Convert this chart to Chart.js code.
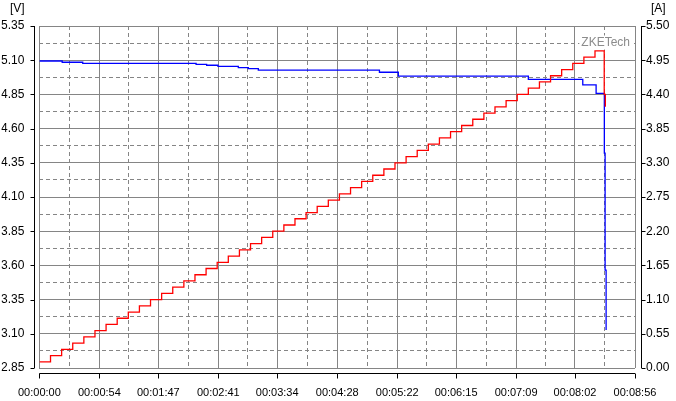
<!DOCTYPE html>
<html><head><meta charset="utf-8">
<script src="https://cdn.jsdelivr.net/npm/chart.js@4.4.1/dist/chart.umd.min.js"></script>
<style>html,body{margin:0;padding:0;background:#fff;}canvas{display:block;}</style>
</head><body>
<canvas id="c" width="676" height="401"></canvas>
<script>
// ---- tick labels ----
const timeTickLabels = ['00:00:00','00:00:54','00:01:47','00:02:41','00:03:34','00:04:28','00:05:22','00:06:15','00:07:09','00:08:02','00:08:56'];
const voltTickLabels = ['2.85','3.10','3.35','3.60','3.85','4.10','4.35','4.60','4.85','5.10','5.35'];
const ampTickLabels  = ['0.00','0.55','1.10','1.65','2.20','2.75','3.30','3.85','4.40','4.95','5.50'];

// ---- current series (A), value starting at each time (s) ----
const currentTimes = [0,10,20,30,40,50,60,70,80,90,100,110,120,130,140,150,160,170,180,190,200,
  210,220,230,240,250,260,270,280,290,300,310,320,330,340,350,360,370,380,390,400,
  410,420,430,440,450,460,470,480,490,500,508.3,509.3];
const currentValues = [0.10,0.20,0.30,0.40,0.50,0.60,0.70,0.80,0.90,1.00,1.10,1.20,1.30,1.40,1.50,1.60,1.70,1.80,1.90,2.00,2.10,
  2.20,2.30,2.40,2.50,2.60,2.70,2.80,2.90,3.00,3.10,3.20,3.30,3.40,3.50,3.60,3.70,3.80,3.90,4.00,4.10,
  4.20,4.30,4.40,4.50,4.60,4.70,4.80,4.90,5.00,5.10,4.40,4.20];

// ---- voltage series (V), value starting at each time (s) ----
const voltageTimes  = [0,20.5,39,141,150.5,160.7,179,188,197,306,323,440,489,501,508.4,509.1,510];
const voltageValues = [5.094,5.085,5.077,5.070,5.063,5.055,5.045,5.038,5.028,5.012,4.984,4.960,4.920,4.858,4.420,3.566,3.128];

const FONT = '"Liberation Sans", Arial, sans-serif';
const toSec = s => { const p = s.split(':').map(Number); return p[0]*3600 + p[1]*60 + p[2]; };
const timeSecs = timeTickLabels.map(toSec);
const voltNums = voltTickLabels.map(Number);
const ampNums = ampTickLabels.map(Number);

function withHalf(vals){
  const out = [];
  vals.forEach((v,i)=>{ out.push({value:v}); if(i<vals.length-1) out.push({value:(v+vals[i+1])/2}); });
  return out;
}
const gridOpts = { color:'#858585', lineWidth:1, drawTicks:false };
const borderOpts = { display:false, dash: ctx => (ctx.index % 2 === 1) ? [4,3] : [] };

const decor = {
  id:'decor',
  beforeDatasetsDraw(chart){
    const {ctx, chartArea:a} = chart;
    ctx.save();
    ctx.font = '12px ' + FONT;
    const txt = 'ZKETech';
    const w = ctx.measureText(txt).width;
    const x = a.right - 5 - w, y = a.top + 16.5;
    ctx.fillStyle = '#fff'; ctx.fillRect(x-2, y-7, w+4, 14);
    ctx.fillStyle = '#8c8c8c'; ctx.textBaseline = 'middle'; ctx.fillText(txt, x, y);
    ctx.restore();
  },
  afterDraw(chart){
    const {ctx, chartArea:a, scales} = chart;
    ctx.save();
    ctx.strokeStyle = '#000'; ctx.lineWidth = 1;
    const L = Math.round(a.left) - 5 + 0.5, R = Math.round(a.right) + 6 + 0.5, B = Math.round(a.bottom) + 5 + 0.5;
    ctx.beginPath();
    ctx.moveTo(L, a.top); ctx.lineTo(L, a.bottom);
    ctx.moveTo(R, a.top); ctx.lineTo(R, a.bottom);
    ctx.moveTo(a.left, B); ctx.lineTo(a.right, B);
    voltNums.forEach(v => { const y = Math.round(scales.y.getPixelForValue(v)) + 0.5; ctx.moveTo(L, y); ctx.lineTo(L-4, y); });
    ampNums.forEach(v => { const y = Math.round(scales.y1.getPixelForValue(v)) + 0.5; ctx.moveTo(R, y); ctx.lineTo(R+4, y); });
    timeSecs.forEach(v => { const x = Math.round(scales.x.getPixelForValue(v)) + 0.5; ctx.moveTo(x, B); ctx.lineTo(x, B+5); });
    ctx.stroke();
    ctx.fillStyle = '#000'; ctx.font = '12px ' + FONT; ctx.textBaseline = 'middle';
    ctx.textAlign = 'left';
    ctx.fillText('[V]', 10, 9);
    ctx.fillText('[A]', 651, 9);
    ctx.restore();
  }
};

new Chart(document.getElementById('c'), {
  type:'line',
  data:{ datasets:[
    { label:'Current', data: currentTimes.map((t,i)=>({x:t, y:currentValues[i]})), yAxisID:'y1',
      borderColor:'#ff0000', borderWidth:1.3, pointRadius:0, stepped:true, fill:false },
    { label:'Voltage', data: voltageTimes.map((t,i)=>({x:t, y:voltageValues[i]})), yAxisID:'y',
      borderColor:'#0000ff', borderWidth:1.3, pointRadius:0, stepped:true, fill:false }
  ]},
  options:{
    responsive:false, animation:false, devicePixelRatio:1,
    layout:{ padding:{ top:26, left:0, right:0, bottom:0 } },
    plugins:{ legend:{display:false}, tooltip:{enabled:false} },
    scales:{
      x:{ type:'linear', min:timeSecs[0], max:timeSecs[timeSecs.length-1],
        afterBuildTicks: s => { s.ticks = withHalf(timeSecs); },
        afterFit: s => { s.height = 33; },
        grid: gridOpts, border: borderOpts,
        ticks:{ autoSkip:false, maxRotation:0, padding:18, color:'#000', font:{family:FONT, size:11},
          callback:(v,i) => i%2===0 ? timeTickLabels[i/2] : '' } },
      y:{ position:'left', min:voltNums[0], max:voltNums[voltNums.length-1],
        afterBuildTicks: s => { s.ticks = withHalf(voltNums); },
        afterFit: s => { s.width = 38; },
        grid: gridOpts, border: borderOpts,
        ticks:{ autoSkip:false, padding:15, color:'#000', font:{family:FONT, size:12},
          callback:(v,i) => i%2===0 ? voltTickLabels[i/2] : '' } },
      y1:{ position:'right', min:ampNums[0], max:ampNums[ampNums.length-1],
        afterBuildTicks: s => { s.ticks = withHalf(ampNums); },
        afterFit: s => { s.width = 41; },
        grid:{ display:false, drawTicks:false }, border:{ display:false },
        ticks:{ autoSkip:false, padding:11, color:'#000', font:{family:FONT, size:12},
          callback:(v,i) => i%2===0 ? ampTickLabels[i/2] : '' } }
    }
  },
  plugins:[decor]
});
</script>
</body></html>
